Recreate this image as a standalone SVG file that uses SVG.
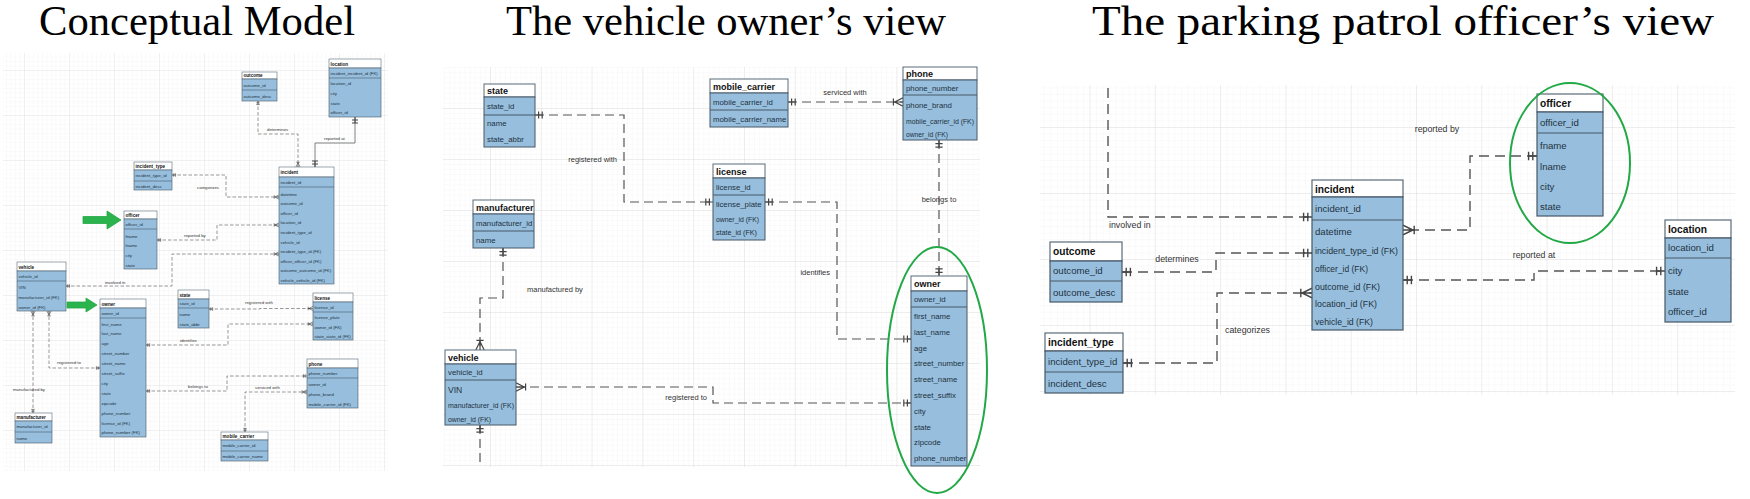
<svg xmlns="http://www.w3.org/2000/svg" width="1750" height="499" viewBox="0 0 1750 499">
<style>
.title{font-family:"Liberation Serif","Times New Roman",serif;font-size:42px;fill:#000}
.hd{fill:#fff;stroke:#5a6b7a}
.bd{fill:#97bfdd;stroke:#465868}
.sp{stroke:#465868}
.s1 rect,.s1 line{stroke-width:0.6}
.s2 rect,.s2 line{stroke-width:1}
.s3 rect,.s3 line{stroke-width:1.2}
text{font-family:"Liberation Sans",Arial,sans-serif;fill:#22313f}
.ht{font-weight:bold;fill:#111}
.s1 text{font-size:4.3px}
.s1 .ht{font-size:4.6px}
.s2 text{font-size:7.8px}
.s2 .ht{font-size:9px}
.s3 text{font-size:9.6px}
.s3 .ht{font-size:10.2px}
.k{fill:none;stroke:#555}
.k1{stroke-width:0.6;stroke-dasharray:3.5 2}
.k1s{stroke-width:1;stroke:#808080}
.k2{stroke-width:1.2;stroke-dasharray:9 5}
.k3{stroke-width:1.4;stroke-dasharray:10 6}
.lb{fill:#333}
.lb1{font-size:4.3px}
.lb2{font-size:7.5px}
.lb3{font-size:8.8px}
.mk{fill:none;stroke:#444;stroke-width:1;stroke-dasharray:none}
.ell{fill:none;stroke:#23a846;stroke-width:2}
.arr{fill:#2bb34d;stroke:#23a846;stroke-width:0.8}
</style>
<defs>
<pattern id="gL1" width="4.5" height="4.5" patternUnits="userSpaceOnUse" x="159" y="160"><path d="M4.5 0H0V4.5" fill="none" stroke="#eeeeee" stroke-width="0.5"/></pattern>
<pattern id="gL2" width="45" height="45" patternUnits="userSpaceOnUse" x="159" y="160"><path d="M45 0H0V45" fill="none" stroke="#dcdcdc" stroke-width="0.7"/></pattern>
<pattern id="gM1" width="5.08" height="5.1" patternUnits="userSpaceOnUse" x="490" y="108"><path d="M5.08 0H0V5.1" fill="none" stroke="#efefef" stroke-width="0.5"/></pattern>
<pattern id="gM2" width="50.8" height="51" patternUnits="userSpaceOnUse" x="490" y="108"><path d="M50.8 0H0V51" fill="none" stroke="#dadada" stroke-width="0.8"/></pattern>
<pattern id="gR1" width="6.53" height="6.6" patternUnits="userSpaceOnUse" x="1416" y="127"><path d="M6.53 0H0V6.6" fill="none" stroke="#eeeeee" stroke-width="0.5"/></pattern>
<pattern id="gR2" width="65.3" height="66" patternUnits="userSpaceOnUse" x="1416" y="127"><path d="M65.3 0H0V66" fill="none" stroke="#dadada" stroke-width="0.8"/></pattern>
<marker id="one" viewBox="0 0 12 10" refX="12" refY="5" markerWidth="12" markerHeight="10" orient="auto-start-reverse" markerUnits="strokeWidth">
<path class="mk" d="M6,2V8M9,2V8M6,5H12"/>
</marker>
<marker id="many" viewBox="0 0 12 10" refX="12" refY="5" markerWidth="12" markerHeight="10" orient="auto-start-reverse" markerUnits="strokeWidth">
<path class="mk" d="M4,2V8M5,5L12,1.5M5,5L12,8.5M4,5H12"/>
</marker>
</defs>
<rect width="1750" height="499" fill="#fff"/>

<!-- backgrounds -->
<g id="grids">
<rect x="3" y="53" width="385" height="418" fill="url(#gL1)"/>
<rect x="3" y="53" width="385" height="418" fill="url(#gL2)"/>
<rect x="443" y="67" width="537" height="400" fill="url(#gM1)"/>
<rect x="443" y="67" width="537" height="400" fill="url(#gM2)"/>
<rect x="1040" y="85" width="695" height="310" fill="url(#gR1)"/>
<rect x="1040" y="85" width="695" height="310" fill="url(#gR2)"/>
</g>

<!-- titles -->
<g id="titles">
<text class="title" x="39" y="35" textLength="316" lengthAdjust="spacingAndGlyphs">Conceptual Model</text>
<text class="title" x="506" y="35" textLength="440" lengthAdjust="spacingAndGlyphs">The vehicle owner’s view</text>
<text class="title" x="1092" y="35" textLength="622" lengthAdjust="spacingAndGlyphs">The parking patrol officer’s view</text>
</g>

<!-- ===== connectors ===== -->
<g id="connectors">
<!-- conceptual -->
<path class="k k1" d="M258,101V134H298V167" marker-start="url(#one)" marker-end="url(#many)"/>
<path class="k k1s" d="M355,117V143H315V167" marker-start="url(#one)" marker-end="url(#one)"/>
<path class="k k1" d="M172,175H226V197H279" marker-start="url(#one)" marker-end="url(#many)"/>
<path class="k k1" d="M157,240H217V225H279" marker-start="url(#one)" marker-end="url(#many)"/>
<path class="k k1" d="M279,254H172V286H66" marker-start="url(#many)" marker-end="url(#one)"/>
<path class="k k1" d="M209,309H260V308.5H313" marker-start="url(#one)" marker-end="url(#many)"/>
<path class="k k1" d="M146,345H228V324H313" marker-start="url(#one)" marker-end="url(#many)"/>
<path class="k k1" d="M146,391H227V376H307" marker-start="url(#one)" marker-end="url(#one)"/>
<path class="k k1" d="M245,432V392H307" marker-start="url(#one)" marker-end="url(#many)"/>
<path class="k k1" d="M49,311V368H100" marker-start="url(#many)" marker-end="url(#one)"/>
<path class="k k1" d="M33,311V413" marker-start="url(#many)" marker-end="url(#one)"/>
<text class="lb lb1" x="267" y="130.5">determines</text>
<text class="lb lb1" x="324" y="139.5">reported at</text>
<text class="lb lb1" x="197" y="188.5">categorizes</text>
<text class="lb lb1" x="184" y="236.5">reported by</text>
<text class="lb lb1" x="105" y="283.5">involved in</text>
<text class="lb lb1" x="245" y="303.5">registered with</text>
<text class="lb lb1" x="180" y="341.5">identifies</text>
<text class="lb lb1" x="188" y="387.5">belongs to</text>
<text class="lb lb1" x="255" y="388.5">serviced with</text>
<text class="lb lb1" x="57" y="363.5">registered to</text>
<text class="lb lb1" x="13" y="390.5">manufactured by</text>

<!-- vehicle owner's view -->
<path class="k k2" d="M535,115H624V202H713" marker-start="url(#one)" marker-end="url(#one)"/>
<path class="k k2" d="M788,102H903" marker-start="url(#one)" marker-end="url(#many)"/>
<path class="k k2" d="M939,140V276" marker-start="url(#one)" marker-end="url(#one)"/>
<path class="k k2" d="M765,202H837V339H911" marker-start="url(#one)" marker-end="url(#one)"/>
<path class="k k2" d="M516,387H713V403H911" marker-start="url(#many)" marker-end="url(#one)"/>
<path class="k k2" d="M503,248V298H480V350" marker-start="url(#one)" marker-end="url(#many)"/>
<path class="k k2" d="M480,425V467" marker-start="url(#one)"/>
<text class="lb lb2" x="617" y="162" text-anchor="end">registered with</text>
<text class="lb lb2" x="845" y="95" text-anchor="middle">serviced with</text>
<text class="lb lb2" x="939" y="202" text-anchor="middle">belongs to</text>
<text class="lb lb2" x="830" y="275" text-anchor="end">identifies</text>
<text class="lb lb2" x="707" y="400" text-anchor="end">registered to</text>
<text class="lb lb2" x="527" y="292">manufactured by</text>

<!-- parking patrol officer's view -->
<path class="k k3" d="M1108,88V217H1312" marker-end="url(#one)"/>
<path class="k k3" d="M1122,272H1216V253H1312" marker-start="url(#one)" marker-end="url(#one)"/>
<path class="k k3" d="M1123,363H1217V293H1312" marker-start="url(#one)" marker-end="url(#many)"/>
<path class="k k3" d="M1537,156H1470V230H1403" marker-start="url(#one)" marker-end="url(#many)"/>
<path class="k k3" d="M1403,280H1534V271H1665" marker-start="url(#one)" marker-end="url(#one)"/>
<text class="lb lb3" x="1109" y="228">involved in</text>
<text class="lb lb3" x="1177" y="262" text-anchor="middle">determines</text>
<text class="lb lb3" x="1225" y="333">categorizes</text>
<text class="lb lb3" x="1437" y="132" text-anchor="middle">reported by</text>
<text class="lb lb3" x="1534" y="258" text-anchor="middle">reported at</text>
</g>

<!-- ===== Conceptual model tables ===== -->
<g id="cm-outcome" class="s1">
<rect class="hd" x="242" y="72" width="35" height="7"/><rect class="bd" x="242" y="79" width="35" height="22"/><line class="sp" x1="242" y1="90" x2="277" y2="90"/>
<text class="ht" x="243.5" y="77.3">outcome</text><text x="243.5" y="86.5">outcome_id</text><text x="243.5" y="97.5">outcome_desc</text>
</g>
<g id="cm-location" class="s1">
<rect class="hd" x="329" y="59" width="52" height="9"/><rect class="bd" x="329" y="68" width="52" height="49"/><line class="sp" x1="329" y1="78" x2="381" y2="78"/>
<text class="ht" x="330.5" y="65.5">location</text><text x="330.5" y="74.5">incident_incident_id (FK)</text><text x="330.5" y="84.5">location_id</text><text x="330.5" y="94.5">city</text><text x="330.5" y="104.5">state</text><text x="330.5" y="114.3">officer_id</text>
</g>
<g id="cm-incident_type" class="s1">
<rect class="hd" x="134" y="162" width="38" height="8"/><rect class="bd" x="134" y="170" width="38" height="20"/><line class="sp" x1="134" y1="181" x2="172" y2="181"/>
<text class="ht" x="135.5" y="168">incident_type</text><text x="135.5" y="177">incident_type_id</text><text x="135.5" y="187.5">incident_desc</text>
</g>
<g id="cm-incident" class="s1">
<rect class="hd" x="279" y="167" width="55" height="10"/><rect class="bd" x="279" y="177" width="55" height="107"/><line class="sp" x1="279" y1="187" x2="334" y2="187"/>
<text class="ht" x="280.5" y="174">incident</text><text x="280.5" y="183.5">incident_id</text>
<text x="280.5" y="195.5">datetime</text><text x="280.5" y="205.1">outcome_id</text><text x="280.5" y="214.7">officer_id</text><text x="280.5" y="224.3">location_id</text><text x="280.5" y="233.9">incident_type_id</text><text x="280.5" y="243.5">vehicle_id</text><text x="280.5" y="253.1">incident_type_id (FK)</text><text x="280.5" y="262.7">officer_officer_id (FK)</text><text x="280.5" y="272.3">outcome_outcome_id (FK)</text><text x="280.5" y="281.9">vehicle_vehicle_id (FK)</text>
</g>
<g id="cm-officer" class="s1">
<rect class="hd" x="124" y="211" width="33" height="8"/><rect class="bd" x="124" y="219" width="33" height="50"/><line class="sp" x1="124" y1="229" x2="157" y2="229"/>
<text class="ht" x="125.5" y="217">officer</text><text x="125.5" y="225.5">officer_id</text><text x="125.5" y="237.5">fname</text><text x="125.5" y="247.2">lname</text><text x="125.5" y="256.9">city</text><text x="125.5" y="266.5">state</text>
</g>
<g id="cm-vehicle" class="s1">
<rect class="hd" x="17" y="262" width="49" height="9"/><rect class="bd" x="17" y="271" width="49" height="40"/><line class="sp" x1="17" y1="281" x2="66" y2="281"/>
<text class="ht" x="18.5" y="268.5">vehicle</text><text x="18.5" y="277.5">vehicle_id</text><text x="18.5" y="288.5">VIN</text><text x="18.5" y="298.5">manufacturer_id (FK)</text><text x="18.5" y="308.5">owner_id (FK)</text>
</g>
<g id="cm-owner" class="s1">
<rect class="hd" x="100" y="299" width="46" height="9"/><rect class="bd" x="100" y="308" width="46" height="129"/><line class="sp" x1="100" y1="318" x2="146" y2="318"/>
<text class="ht" x="101.5" y="305.5">owner</text><text x="101.5" y="314.5">owner_id</text>
<text x="101.5" y="325.5">first_name</text><text x="101.5" y="335.4">last_name</text><text x="101.5" y="345.3">age</text><text x="101.5" y="355.2">street_number</text><text x="101.5" y="365.1">street_name</text><text x="101.5" y="375">street_suffix</text><text x="101.5" y="384.9">city</text><text x="101.5" y="394.8">state</text><text x="101.5" y="404.7">zipcode</text><text x="101.5" y="414.6">phone_number</text><text x="101.5" y="424.5">license_id (FK)</text><text x="101.5" y="434.4">phone_number (FK)</text>
</g>
<g id="cm-state" class="s1">
<rect class="hd" x="178" y="290" width="31" height="9"/><rect class="bd" x="178" y="299" width="31" height="29"/><line class="sp" x1="178" y1="308" x2="209" y2="308"/>
<text class="ht" x="179.5" y="296.5">state</text><text x="179.5" y="305">state_id</text><text x="179.5" y="315.5">name</text><text x="179.5" y="325.5">state_abbr</text>
</g>
<g id="cm-license" class="s1">
<rect class="hd" x="313" y="293" width="40" height="9"/><rect class="bd" x="313" y="302" width="40" height="38"/><line class="sp" x1="313" y1="312" x2="353" y2="312"/>
<text class="ht" x="314.5" y="299.5">license</text><text x="314.5" y="308.5">license_id</text><text x="314.5" y="318.5">license_plate</text><text x="314.5" y="328.5">owner_id (FK)</text><text x="314.5" y="338">state_state_id (FK)</text>
</g>
<g id="cm-phone" class="s1">
<rect class="hd" x="307" y="359" width="51" height="9"/><rect class="bd" x="307" y="368" width="51" height="40"/><line class="sp" x1="307" y1="378" x2="358" y2="378"/>
<text class="ht" x="308.5" y="365.5">phone</text><text x="308.5" y="374.5">phone_number</text><text x="308.5" y="385.5">owner_id</text><text x="308.5" y="395.5">phone_brand</text><text x="308.5" y="405.5">mobile_carrier_id (FK)</text>
</g>
<g id="cm-mobile_carrier" class="s1">
<rect class="hd" x="221" y="432" width="47" height="8"/><rect class="bd" x="221" y="440" width="47" height="21"/><line class="sp" x1="221" y1="451" x2="268" y2="451"/>
<text class="ht" x="222.5" y="438">mobile_carrier</text><text x="222.5" y="447">mobile_carrier_id</text><text x="222.5" y="458">mobile_carrier_name</text>
</g>
<g id="cm-manufacturer" class="s1">
<rect class="hd" x="15" y="413" width="37" height="8"/><rect class="bd" x="15" y="421" width="37" height="22"/><line class="sp" x1="15" y1="432" x2="52" y2="432"/>
<text class="ht" x="16.5" y="419">manufacturer</text><text x="16.5" y="428">manufacturer_id</text><text x="16.5" y="439.5">name</text>
</g>
<g id="cm-arrows">
<polygon class="arr" points="83,216.5 107,216.5 107,211 121,220 107,229 107,223.5 83,223.5"/>
<polygon class="arr" points="67,302 86,302 86,298 97,305 86,312 86,308 67,308"/>
</g>

<!-- ===== Vehicle owner's view tables ===== -->
<g id="vo-state" class="s2">
<rect class="hd" x="484" y="84" width="51" height="13"/><rect class="bd" x="484" y="97" width="51" height="50"/><line class="sp" x1="484" y1="115" x2="535" y2="115"/>
<text class="ht" x="487" y="94">state</text><text x="487" y="109">state_id</text><text x="487" y="126">name</text><text x="487" y="142">state_abbr</text>
</g>
<g id="vo-manufacturer" class="s2">
<rect class="hd" x="473" y="200" width="61" height="14"/><rect class="bd" x="473" y="214" width="61" height="34"/><line class="sp" x1="473" y1="231" x2="534" y2="231"/>
<text class="ht" x="476" y="210.5">manufacturer</text><text x="476" y="225.5">manufacturer_id</text><text x="476" y="243">name</text>
</g>
<g id="vo-mobile_carrier" class="s2">
<rect class="hd" x="710" y="79" width="78" height="14"/><rect class="bd" x="710" y="93" width="78" height="34"/><line class="sp" x1="710" y1="110" x2="788" y2="110"/>
<text class="ht" x="713" y="89.5">mobile_carrier</text><text x="713" y="104.5">mobile_carrier_id</text><text x="713" y="122">mobile_carrier_name</text>
</g>
<g id="vo-license" class="s2">
<rect class="hd" x="713" y="164" width="52" height="14"/><rect class="bd" x="713" y="178" width="52" height="62"/><line class="sp" x1="713" y1="195" x2="765" y2="195"/>
<text class="ht" x="716" y="174.5">license</text><text x="716" y="189.5">license_id</text><text x="716" y="207">license_plate</text><text x="716" y="222" textLength="43" lengthAdjust="spacingAndGlyphs">owner_id (FK)</text><text x="716" y="235" textLength="41" lengthAdjust="spacingAndGlyphs">state_id (FK)</text>
</g>
<g id="vo-phone" class="s2">
<rect class="hd" x="903" y="67" width="74" height="13"/><rect class="bd" x="903" y="80" width="74" height="60"/><line class="sp" x1="903" y1="95" x2="977" y2="95"/>
<text class="ht" x="906" y="77">phone</text><text x="906" y="90.5">phone_number</text><text x="906" y="108">phone_brand</text><text x="906" y="124" textLength="68" lengthAdjust="spacingAndGlyphs">mobile_carrier_id (FK)</text><text x="906" y="137" textLength="42" lengthAdjust="spacingAndGlyphs">owner_id (FK)</text>
</g>
<g id="vo-vehicle" class="s2">
<rect class="hd" x="445" y="350" width="71" height="14"/><rect class="bd" x="445" y="364" width="71" height="61"/><line class="sp" x1="445" y1="380" x2="516" y2="380"/>
<text class="ht" x="448" y="360.5">vehicle</text><text x="448" y="375">vehicle_id</text><text x="448" y="393" style="font-size:8.6px">VIN</text><text x="448" y="408" textLength="66" lengthAdjust="spacingAndGlyphs">manufacturer_id (FK)</text><text x="448" y="422" textLength="43" lengthAdjust="spacingAndGlyphs">owner_id (FK)</text>
</g>
<g id="vo-owner" class="s2">
<rect class="hd" x="911" y="276" width="56" height="15"/><rect class="bd" x="911" y="291" width="56" height="175"/><line class="sp" x1="911" y1="307" x2="967" y2="307"/>
<text class="ht" x="914" y="287">owner</text><text x="914" y="302">owner_id</text>
<text x="914" y="319">first_name</text><text x="914" y="334.8">last_name</text><text x="914" y="350.6">age</text><text x="914" y="366.4">street_number</text><text x="914" y="382.2">street_name</text><text x="914" y="398">street_suffix</text><text x="914" y="413.8">city</text><text x="914" y="429.6">state</text><text x="914" y="445.4">zipcode</text><text x="914" y="461.2">phone_number</text>
</g>
<ellipse class="ell" cx="937" cy="370" rx="50" ry="123"/>

<!-- ===== Parking patrol officer's view tables ===== -->
<g id="po-incident" class="s3">
<rect class="hd" x="1312" y="180" width="91" height="17"/><rect class="bd" x="1312" y="197" width="91" height="133"/><line class="sp" x1="1312" y1="220" x2="1403" y2="220"/>
<text class="ht" x="1315" y="192.5">incident</text><text x="1315" y="211.5">incident_id</text>
<text x="1315" y="235">datetime</text><text x="1315" y="254" textLength="83" lengthAdjust="spacingAndGlyphs">incident_type_id (FK)</text><text x="1315" y="272" textLength="53" lengthAdjust="spacingAndGlyphs">officer_id (FK)</text><text x="1315" y="289.5" textLength="65" lengthAdjust="spacingAndGlyphs">outcome_id (FK)</text><text x="1315" y="307" textLength="62" lengthAdjust="spacingAndGlyphs">location_id (FK)</text><text x="1315" y="325" textLength="58" lengthAdjust="spacingAndGlyphs">vehicle_id (FK)</text>
</g>
<g id="po-officer" class="s3">
<rect class="hd" x="1537" y="94" width="66" height="18"/><rect class="bd" x="1537" y="112" width="66" height="104"/><line class="sp" x1="1537" y1="133" x2="1603" y2="133"/>
<text class="ht" x="1540" y="107">officer</text><text x="1540" y="125.5">officer_id</text><text x="1540" y="149">fname</text><text x="1540" y="170">lname</text><text x="1540" y="190">city</text><text x="1540" y="210">state</text>
</g>
<ellipse class="ell" cx="1570" cy="163" rx="60" ry="80"/>
<g id="po-location" class="s3">
<rect class="hd" x="1665" y="220" width="66" height="18"/><rect class="bd" x="1665" y="238" width="66" height="84"/><line class="sp" x1="1665" y1="258" x2="1731" y2="258"/>
<text class="ht" x="1668" y="233">location</text><text x="1668" y="251">location_id</text><text x="1668" y="274">city</text><text x="1668" y="295">state</text><text x="1668" y="315">officer_id</text>
</g>
<g id="po-outcome" class="s3">
<rect class="hd" x="1050" y="242" width="72" height="19"/><rect class="bd" x="1050" y="261" width="72" height="41"/><line class="sp" x1="1050" y1="281" x2="1122" y2="281"/>
<text class="ht" x="1053" y="255">outcome</text><text x="1053" y="274">outcome_id</text><text x="1053" y="296">outcome_desc</text>
</g>
<g id="po-incident_type" class="s3">
<rect class="hd" x="1045" y="333" width="78" height="18"/><rect class="bd" x="1045" y="351" width="78" height="42"/><line class="sp" x1="1045" y1="372" x2="1123" y2="372"/>
<text class="ht" x="1048" y="346">incident_type</text><text x="1048" y="364.5">incident_type_id</text><text x="1048" y="387">incident_desc</text>
</g>
</svg>
